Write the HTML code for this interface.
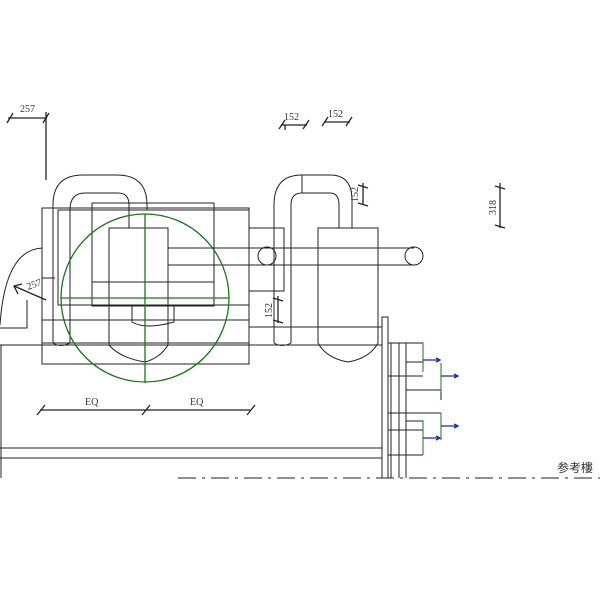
<!DOCTYPE html>
<html><head><meta charset="utf-8"><style>body{margin:0;background:#fff}svg{display:block}</style></head><body>
<svg width="600" height="600" viewBox="0 0 600 600" xmlns="http://www.w3.org/2000/svg" font-family="Liberation Serif, serif" fill="none" stroke="#222" stroke-width="1">
<!-- base -->
<line x1="0" y1="345" x2="382" y2="345"/>
<line x1="0" y1="448" x2="382" y2="448"/>
<line x1="0" y1="458" x2="382" y2="458"/>
<line x1="1" y1="345" x2="1" y2="478"/>
<rect x="382" y="317" width="6" height="161"/>
<line x1="391" y1="343" x2="391" y2="478"/>
<line x1="399" y1="343" x2="399" y2="478"/>
<line x1="406" y1="343" x2="406" y2="478"/>
<!-- left assembly -->
<rect x="42" y="208" width="207" height="156"/>
<rect x="58" y="210" width="191" height="95"/>
<rect x="92" y="203" width="122" height="103"/>
<line x1="92" y1="282" x2="214" y2="282"/>
<line x1="42" y1="320" x2="249" y2="320"/>
<line x1="42" y1="343" x2="249" y2="343"/>
<path d="M109 228 H168 V345 Q160 358 145 362 Q120 358 109 345 Z"/>
<path d="M132 306 V322 Q145 330 174 322 V306"/>
<path d="M53 343 V205 Q53 175 83 175 H117 Q147 175 147 205 V210"/>
<path d="M70 343 V210 Q70 193 85 193 H118 Q129 193 129 205 V228"/>
<path d="M53 343 Q60 348 70 343"/>
<path d="M0 325 Q5 250 42 248"/><path d="M42 278 H55"/><path d="M27 328 V325 M0 328 H27 V300"/>
<!-- horizontal pipe -->
<line x1="168" y1="248" x2="414" y2="248"/>
<line x1="168" y1="265" x2="414" y2="265"/>
<circle cx="414" cy="256" r="9"/>
<circle cx="267" cy="256" r="9"/>
<rect x="249" y="228" width="35" height="63"/>
<!-- right U pipe -->
<path d="M274 343 V205 Q274 175 302 175 H330 Q352 175 352 200 V228"/>
<path d="M291 343 V205 Q291 193 302 193 H330 Q339 193 339 205 V228"/>
<line x1="302" y1="175" x2="302" y2="193"/>
<path d="M274 343 Q282 348 291 343"/>
<path d="M318 228 H378 V343 Q370 358 348 362 Q326 358 318 343 Z"/>
<line x1="249" y1="327" x2="382" y2="327"/>
<!-- green circle -->
<g stroke="#1a7a1a" stroke-width="1.3">
<circle cx="145" cy="298" r="84"/>
<line x1="145" y1="214" x2="145" y2="383"/>
<line x1="61" y1="298" x2="229" y2="298"/>
</g>
<!-- right connectors -->
<g stroke="#222">
<path d="M388 343 H423 V360 M406 362 H423 M388 376 H423 M406 390 H441 V400 M388 413 H441 M406 421 H423 V437 M388 430 H423 M388 455 H423"/>
</g>
<g stroke="#1a7a1a"><line x1="423" y1="343" x2="423" y2="372"/><line x1="441" y1="363" x2="441" y2="392"/><line x1="441" y1="413" x2="441" y2="440"/><line x1="423" y1="421" x2="423" y2="455"/></g>
<g stroke="#1a2aa0" stroke-width="1.3">
<path d="M423 360 H440 M436 358 L440 360 L436 362"/>
<path d="M441 376 H458 M454 374 L458 376 L454 378"/>
<path d="M441 426 H458 M454 424 L458 426 L454 428"/>
<path d="M423 438 H440 M436 436 L440 438 L436 440"/>
</g>
<!-- centerline -->
<line x1="178" y1="478" x2="600" y2="478" stroke-dasharray="18,6,3,6"/>
<!-- dimensions -->
<g stroke-width="1.3">
<line x1="8" y1="118" x2="47" y2="118"/><line x1="46" y1="112" x2="46" y2="180"/>
<line x1="7" y1="123" x2="13" y2="113"/><line x1="43" y1="123" x2="49" y2="113"/>
<line x1="281" y1="125" x2="307" y2="125"/><line x1="279" y1="129" x2="285" y2="120"/><line x1="303" y1="129" x2="309" y2="120"/><line x1="285" y1="125" x2="285" y2="130"/>
<line x1="325" y1="122" x2="350" y2="122"/><line x1="322" y1="126" x2="328" y2="117"/><line x1="346" y1="126" x2="352" y2="117"/>
<line x1="363" y1="183" x2="363" y2="205"/><line x1="358" y1="185" x2="368" y2="188"/><line x1="358" y1="203" x2="368" y2="206"/>
<line x1="500" y1="183" x2="500" y2="228"/><line x1="495" y1="186" x2="505" y2="189"/><line x1="495" y1="225" x2="505" y2="228"/>
<line x1="278" y1="296" x2="278" y2="323"/><line x1="273" y1="298" x2="283" y2="301"/><line x1="273" y1="320" x2="283" y2="323"/>
<line x1="40" y1="410" x2="250" y2="410"/>
<line x1="37" y1="415" x2="45" y2="405"/><line x1="142" y1="415" x2="150" y2="405"/><line x1="247" y1="415" x2="255" y2="405"/>
<line x1="14" y1="286" x2="46" y2="300"/><path d="M22 284 L14 286 L18 294"/>
</g>
<g fill="#333" stroke="none" font-size="10">
<text x="20" y="112">257</text>
<text x="284" y="120">152</text>
<text x="328" y="117">152</text>
<text x="85" y="405">EQ</text>
<text x="190" y="405">EQ</text>
<text x="28" y="290" transform="rotate(-20 28 290)">257</text>
<text transform="translate(358 202) rotate(-90)">152</text>
<text transform="translate(496 215) rotate(-90)">318</text>
<text transform="translate(272 318) rotate(-90)">152</text>
<text x="557" y="472" font-family="Liberation Sans, Noto Sans CJK TC, sans-serif" font-size="12">参考樓</text>
</g>
</svg>
</body></html>
